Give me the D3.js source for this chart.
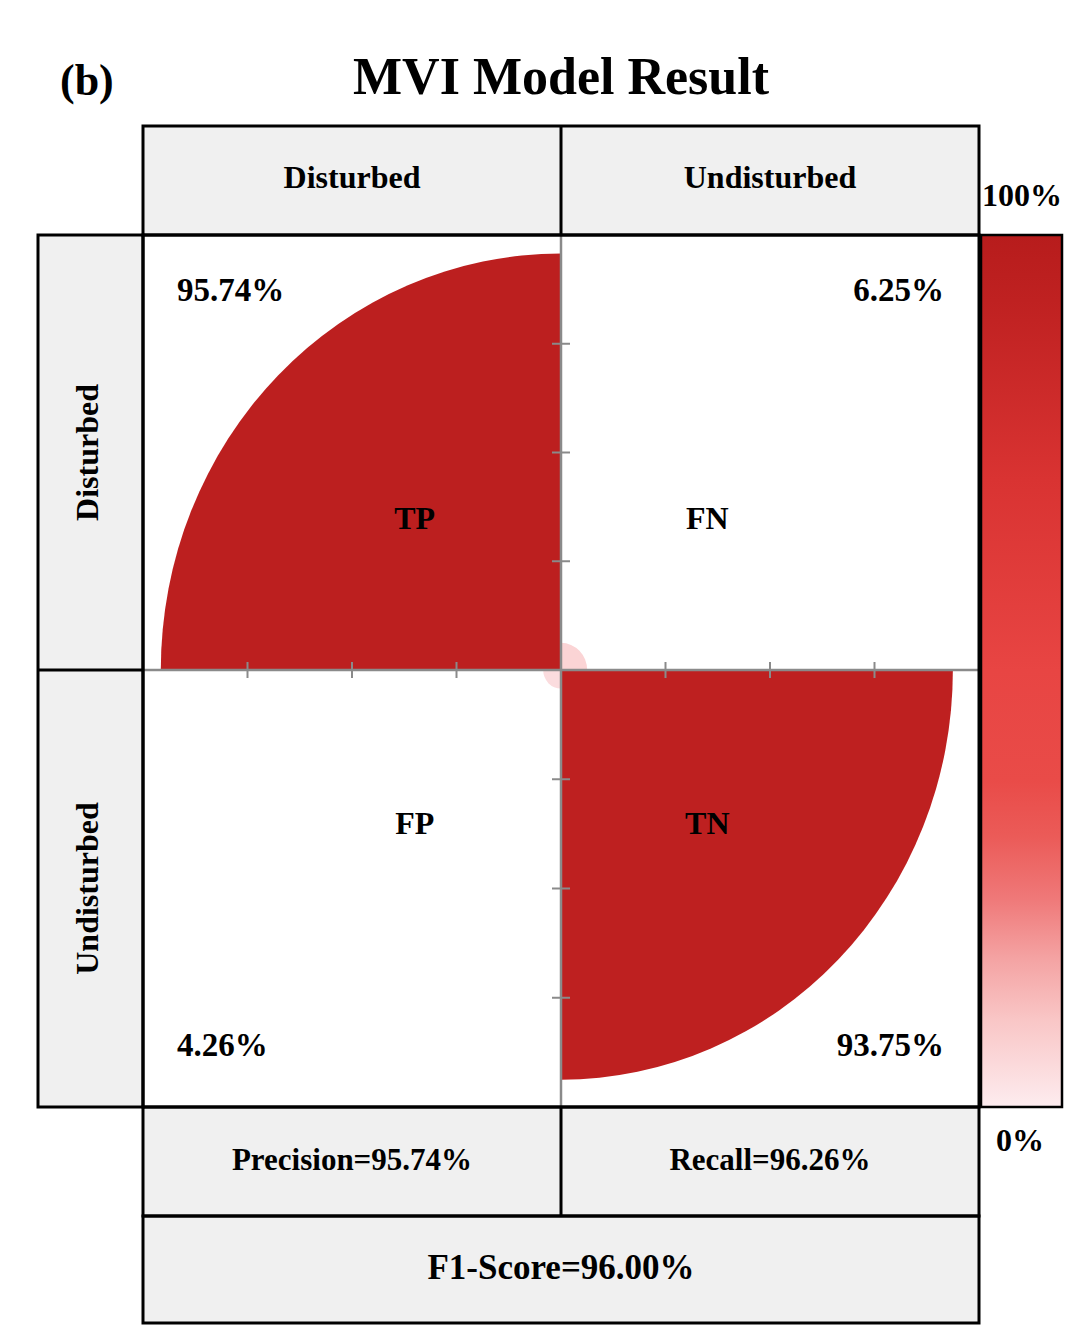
<!DOCTYPE html>
<html lang="en">
<head>
<meta charset="UTF-8">
<title>MVI Model Result</title>
<script src="https://d3js.org/d3.v7.min.js"></script>
<style>
  body { margin: 0; background: #fff; }
  svg { display: block; }
  text { font-family: "Liberation Serif", "Times New Roman", serif; font-weight: bold; fill: #000; }
</style>
</head>
<body>
<div id="viz"></div>
<script>
// data
const classes = ["Disturbed", "Undisturbed"];
const cellCodes = ["TP", "FN", "FP", "TN"];
const cellValues = [95.74, 6.25, 4.26, 93.75];
const metricLabels = ["Precision=95.74%", "Recall=96.26%"];
const f1Label = "F1-Score=96.00%";
const barTicks = ["0%", "100%"];
// colour ramp of the bar (value -> colour)
const rampStops = [0, 10, 17, 24, 31, 37.5, 50, 72, 92.5, 100];
const rampColors = ["#fdecef", "#f9c6c6", "#f4a3a3", "#ef7878", "#eb5b58", "#e94b48", "#e84543", "#d93332", "#bf2121", "#b71c1c"];

const W = 1080, H = 1342;
const svg = d3.select("#viz").append("svg").attr("width", W).attr("height", H);

// layout
const mLeft = 143, mRight = 979, mTop = 235, mBottom = 1107;
const cx = (mLeft + mRight) / 2, cy = 670;
const headTop = 126, rowLeft = 38, metTop = 1107, metMid = 1216, metBot = 1323;
const barX = 981, barW = 81;

const x = d3.scaleLinear().domain([-100, 100]).range([mLeft, mRight]);
const y = d3.scaleLinear().domain([100, 0]).range([mTop, cy]);
const yLow = d3.scaleLinear().domain([0, -100]).range([cy, mBottom]);
const color = d3.scaleLinear().domain(rampStops).range(rampColors);

// title
svg.append("text").attr("x", 60).attr("y", 95).style("font-size", "44px").text("(b)");
svg.append("text").attr("x", cx).attr("y", 94).attr("text-anchor", "middle")
  .style("font-size", "52px").text("MVI Model Result");

// header fills
const fill = "#f0f0f0";
svg.append("rect").attr("x", mLeft).attr("y", headTop).attr("width", mRight - mLeft).attr("height", mTop - headTop).attr("fill", fill);
svg.append("rect").attr("x", rowLeft).attr("y", mTop).attr("width", mLeft - rowLeft).attr("height", mBottom - mTop).attr("fill", fill);
svg.append("rect").attr("x", mLeft).attr("y", metTop).attr("width", mRight - mLeft).attr("height", metBot - metTop).attr("fill", fill);

// quarter ellipses
const dirs = [[-1, -1], [1, -1], [-1, 1], [1, 1]];
const cells = cellValues.map((v, i) => ({ v, code: cellCodes[i], sx: dirs[i][0], sy: dirs[i][1] }));
function rx(v) { return x(v) - x(0); }
function ry(d) { return d.sy < 0 ? y(0) - y(d.v) : yLow(-d.v) - yLow(0); }
svg.append("g").selectAll("path").data(cells).join("path")
  .attr("fill", d => color(d.v))
  .attr("d", d => {
    const a = rx(d.v), b = ry(d);
    const p = d3.path();
    p.moveTo(cx, cy);
    p.lineTo(cx + d.sx * a, cy);
    const sweep = (d.sx * d.sy > 0) ? 1 : 0;
    return p.toString() + `A${a},${b} 0 0 ${sweep} ${cx},${cy + d.sy * b}Z`;
  });

// center gray lines + ticks
const grey = "#8a8a8a";
svg.append("line").attr("x1", mLeft).attr("x2", mRight).attr("y1", cy).attr("y2", cy).attr("stroke", grey).attr("stroke-width", 2.5);
svg.append("line").attr("x1", cx).attr("x2", cx).attr("y1", mTop).attr("y2", mBottom).attr("stroke", grey).attr("stroke-width", 2.5);
const xt = [-75, -50, -25, 25, 50, 75];
svg.append("g").selectAll("line").data(xt).join("line")
  .attr("x1", d => x(d)).attr("x2", d => x(d)).attr("y1", cy - 8).attr("y2", cy + 8)
  .attr("stroke", grey).attr("stroke-width", 2);
svg.append("g").selectAll("line").data(xt).join("line")
  .attr("y1", d => d > 0 ? y(d) : yLow(d)).attr("y2", d => d > 0 ? y(d) : yLow(d))
  .attr("x1", cx - 9).attr("x2", cx + 9)
  .attr("stroke", grey).attr("stroke-width", 2);

// cell labels
const fs = "32px";
svg.append("g").selectAll("text").data(cells).join("text")
  .attr("x", d => d.sx < 0 ? 177 : 944)
  .attr("y", d => d.sy < 0 ? 301 : 1056)
  .attr("text-anchor", d => d.sx < 0 ? "start" : "end")
  .style("font-size", "33px").text(d => d.v.toFixed(2) + "%");
svg.append("g").selectAll("text").data(cells).join("text")
  .attr("x", d => cx + d.sx * rx(35))
  .attr("y", d => (d.sy < 0 ? y(35) : yLow(-35)) + 11)
  .attr("text-anchor", "middle")
  .style("font-size", fs).text(d => d.code);

// headers
svg.append("g").selectAll("text").data(classes).join("text")
  .attr("x", (d, i) => (i === 0 ? (mLeft + cx) / 2 : (cx + mRight) / 2))
  .attr("y", 188).attr("text-anchor", "middle").style("font-size", fs).text(d => d);
svg.append("g").selectAll("text").data(classes).join("text")
  .attr("transform", (d, i) => `translate(98,${i === 0 ? (mTop + cy) / 2 : (cy + mBottom) / 2}) rotate(-90)`)
  .attr("text-anchor", "middle").style("font-size", fs).text(d => d);

// metrics
svg.append("g").selectAll("text").data(metricLabels).join("text")
  .attr("x", (d, i) => (i === 0 ? (mLeft + cx) / 2 : (cx + mRight) / 2))
  .attr("y", 1170).attr("text-anchor", "middle").style("font-size", "31px").text(d => d);
svg.append("text").attr("x", cx).attr("y", 1279).attr("text-anchor", "middle")
  .style("font-size", "35px").text(f1Label);

// colour bar
const grad = svg.append("defs").append("linearGradient").attr("id", "ramp")
  .attr("x1", 0).attr("y1", 1).attr("x2", 0).attr("y2", 0);
grad.selectAll("stop").data(rampStops).join("stop")
  .attr("offset", d => d / 100).attr("stop-color", (d, i) => rampColors[i]);
svg.append("rect").attr("x", barX).attr("y", mTop).attr("width", barW).attr("height", mBottom - mTop)
  .attr("fill", "url(#ramp)").attr("stroke", "#000").attr("stroke-width", 2.5);
svg.append("text").attr("x", 982).attr("y", 206).style("font-size", fs).text(barTicks[1]);
svg.append("text").attr("x", 1020).attr("y", 1151).attr("text-anchor", "middle").style("font-size", fs).text(barTicks[0]);

// black borders
const bk = svg.append("g").attr("fill", "none").attr("stroke", "#000").attr("stroke-width", 3);
bk.append("rect").attr("x", mLeft).attr("y", headTop).attr("width", mRight - mLeft).attr("height", mTop - headTop);
bk.append("line").attr("x1", cx).attr("x2", cx).attr("y1", headTop).attr("y2", mTop);
bk.append("rect").attr("x", rowLeft).attr("y", mTop).attr("width", mLeft - rowLeft).attr("height", mBottom - mTop);
bk.append("line").attr("x1", rowLeft).attr("x2", mLeft).attr("y1", cy).attr("y2", cy);
bk.append("rect").attr("x", mLeft).attr("y", mTop).attr("width", mRight - mLeft).attr("height", mBottom - mTop);
bk.append("rect").attr("x", mLeft).attr("y", metTop).attr("width", mRight - mLeft).attr("height", metMid - metTop);
bk.append("line").attr("x1", cx).attr("x2", cx).attr("y1", metTop).attr("y2", metMid);
bk.append("rect").attr("x", mLeft).attr("y", metMid).attr("width", mRight - mLeft).attr("height", metBot - metMid);
</script>
</body>
</html>
